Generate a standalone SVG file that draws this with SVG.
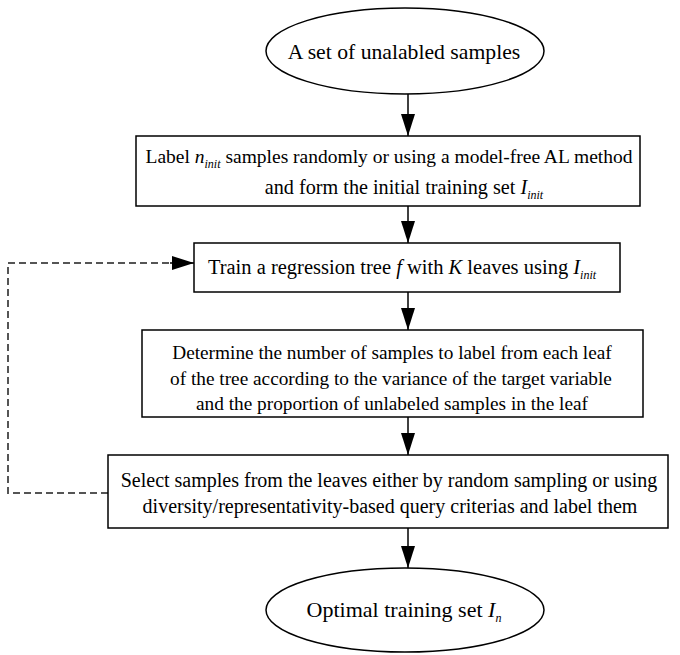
<svg xmlns="http://www.w3.org/2000/svg" width="680" height="655" viewBox="0 0 680 655">
<style>
.node{fill:#fff;stroke:#000;stroke-width:1.5}
.t{font-family:'Liberation Serif','DejaVu Serif',serif;font-size:20px;fill:#000;text-anchor:middle}
.i{font-style:italic}
.sub{font-style:italic;font-size:12px}
.conn{stroke:#000;stroke-width:1.5;fill:none}
.dash{stroke:#555;stroke-width:2;fill:none;stroke-dasharray:7,4}
</style>
<defs>
<marker id="ah" markerWidth="22" markerHeight="22" refX="22" refY="11" viewBox="0 0 22 22" markerUnits="userSpaceOnUse" orient="auto">
<path d="M0,4 L22,11 L0,18 Z" fill="#000"/>
</marker>
</defs>
<g id="connectors">
<line class="conn" x1="408" y1="94" x2="408" y2="136" marker-end="url(#ah)"/>
<line class="conn" x1="408" y1="206" x2="408" y2="243" marker-end="url(#ah)"/>
<line class="conn" x1="408" y1="292" x2="408" y2="330" marker-end="url(#ah)"/>
<line class="conn" x1="408" y1="417" x2="408" y2="455" marker-end="url(#ah)"/>
<line class="conn" x1="408" y1="528" x2="408" y2="568" marker-end="url(#ah)"/>
<polyline class="dash" points="108,493 8,493 8,263 174,263"/>
<line class="conn" x1="170" y1="263" x2="194" y2="263" marker-end="url(#ah)"/>
</g>
<g id="start">
<ellipse class="node" cx="405" cy="51" rx="139" ry="43"/>
<text class="t" x="404" y="59" style="font-size:21.7px">A set of unalabled samples</text>
</g>
<g id="label-init">
<rect class="node" x="136" y="136" width="504" height="70"/>
<text class="t" x="389" y="163" style="font-size:19.5px">Label <tspan class="i">n</tspan><tspan class="sub" dy="5">init</tspan><tspan dy="-5"> samples randomly or using a model-free AL method</tspan></text>
<text class="t" x="404" y="194" style="font-size:20.2px">and form the initial training set <tspan class="i">I</tspan><tspan class="sub" dy="5">init</tspan></text>
</g>
<g id="train">
<rect class="node" x="194" y="243" width="426" height="49"/>
<text class="t" x="402" y="274" style="font-size:20.5px">Train a regression tree <tspan class="i">f</tspan> with <tspan class="i">K</tspan> leaves using <tspan class="i">I</tspan><tspan class="sub" dy="5">init</tspan></text>
</g>
<g id="determine">
<rect class="node" x="142" y="330" width="501" height="87"/>
<g style="font-size:19.3px">
<text class="t" x="392" y="359" style="font-size:19.3px">Determine the number of samples to label from each leaf</text>
<text class="t" x="391" y="385" style="font-size:19.3px">of the tree according to the variance of the target variable</text>
<text class="t" x="392" y="410" style="font-size:19.3px">and the proportion of unlabeled samples in the leaf</text>
</g>
</g>
<g id="select">
<rect class="node" x="108" y="455" width="560" height="73"/>
<text class="t" x="389" y="487">Select samples from the leaves either by random sampling or using</text>
<text class="t" x="390" y="513">diversity/representativity-based query criterias and label them</text>
</g>
<g id="end">
<ellipse class="node" cx="405" cy="610" rx="139" ry="42"/>
<text class="t" x="404" y="617" style="font-size:22px">Optimal training set <tspan class="i">I</tspan><tspan class="sub" dy="5">n</tspan></text>
</g>
</svg>
